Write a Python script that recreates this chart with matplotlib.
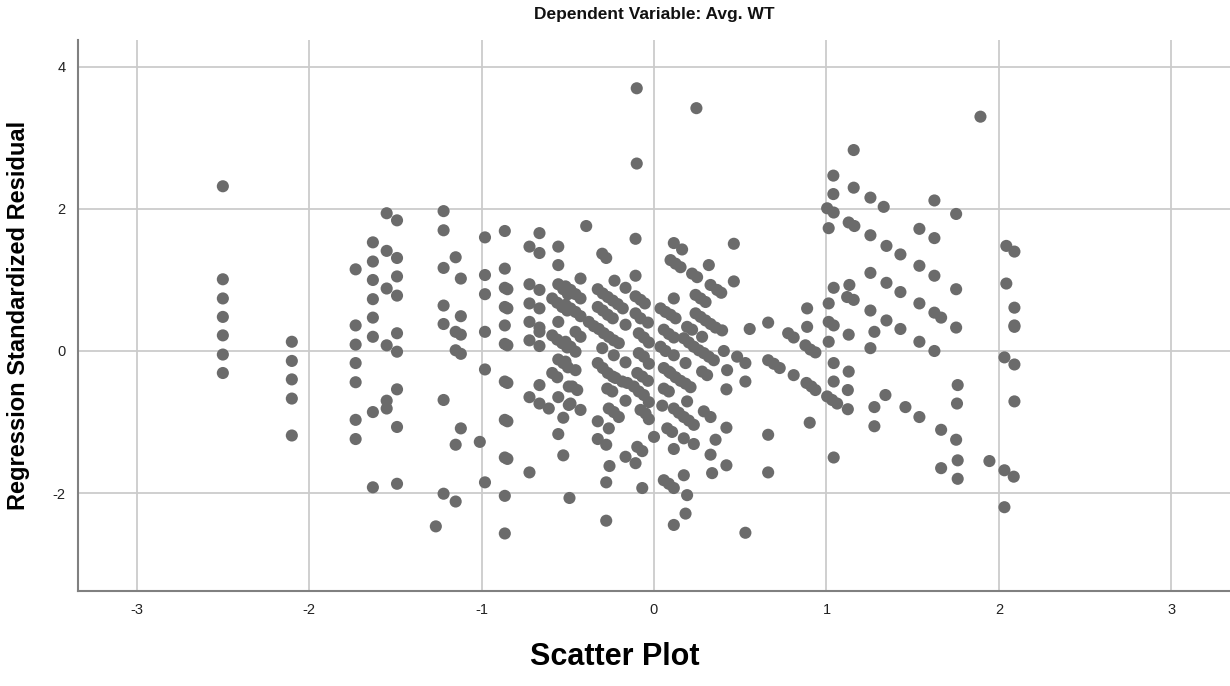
import matplotlib
matplotlib.use("Agg")
import matplotlib.pyplot as plt

plt.rcParams['font.family'] = ['Liberation Sans', 'DejaVu Sans']
plt.rcParams['axes.unicode_minus'] = False

# standardized predicted value (x) and standardized residual (y)
# left columns
x_left = ([-2.50] * 7 + [-2.10] * 5 + [-1.73] * 7 + [-1.63] * 8 + [-1.55] * 6 + [-1.49] * 9
          + [-1.22] * 7 + [-1.15] * 5 + [-1.12] * 5 + [-1.265, -1.01] + [-0.98] * 6)
y_left = [2.32, 1.01, 0.74, 0.48, 0.22, -0.05, -0.31,
          0.13, -0.14, -0.40, -0.67, -1.19,
          1.15, 0.36, 0.09, -0.17, -0.44, -0.97, -1.24,
          1.53, 1.26, 1.00, 0.73, 0.47, 0.20, -0.86, -1.92,
          1.94, 1.41, 0.88, 0.08, -0.70, -0.81,
          1.84, 1.31, 1.05, 0.78, 0.25, -0.01, -0.54, -1.07, -1.87,
          1.97, 1.70, 1.17, 0.64, 0.38, -0.69, -2.01,
          1.32, 0.27, 0.01, -1.32, -2.12,
          1.02, 0.49, 0.23, -0.04, -1.09,
          -2.47, -1.28,
          1.60, 1.07, 0.80, 0.27, -0.26, -1.85]

# centre-left band (-0.9 .. -0.45)
x_cl = ([-0.865] * 11 + [-0.85] * 6 + [-0.722] * 7 + [-0.664] * 9 + [-0.61]
        + [-0.555] * 7 + [-0.526] * 4 + [-0.499, -0.499]
        + [-0.590, -0.561, -0.532, -0.503, -0.590, -0.561, -0.532, -0.503, -0.590, -0.561]
        + [-0.494, -0.494, -0.49])
y_cl = [1.69, 1.16, 0.89, 0.62, 0.36, 0.10, -0.43, -0.97, -1.50, -2.04, -2.57,
        0.87, 0.60, 0.08, -0.45, -0.99, -1.52,
        1.47, 0.94, 0.67, 0.41, 0.15, -0.65, -1.71,
        1.66, 1.38, 0.86, 0.60, 0.33, 0.27, 0.07, -0.48, -0.74,
        -0.81,
        1.47, 1.21, 0.94, 0.41, -0.12, -0.65, -1.17,
        0.87, -0.17, -0.94, -1.47,
        0.80, -0.23,
        0.74, 0.68, 0.62, 0.57, 0.22, 0.16, 0.11, 0.05, -0.31, -0.37,
        -0.50, -0.76, -2.07]

# centre band (-0.52 .. 0)
x_c = [-0.393, -0.107, -0.30, -0.277, -0.426, -0.107, -0.229, -0.165,
       -0.513, -0.484, -0.455, -0.426,
       -0.326, -0.297, -0.268, -0.239, -0.210, -0.181,
       -0.107, -0.078, -0.053,
       -0.513, -0.484, -0.455, -0.426,
       -0.326, -0.297, -0.268, -0.239,
       -0.107, -0.078,
       -0.378, -0.349, -0.320, -0.291, -0.262, -0.233, -0.204,
       -0.165, -0.455, -0.426, -0.088, -0.059,
       -0.513, -0.484, -0.455, -0.30, -0.233, -0.088, -0.059,
       -0.513, -0.455, -0.326, -0.297, -0.268, -0.239, -0.165, -0.097, -0.068,
       -0.474, -0.445, -0.271, -0.242, -0.223, -0.184, -0.155,
       -0.117, -0.088, -0.059, -0.484, -0.426, -0.165,
       -0.262, -0.233, -0.204, -0.078, -0.049,
       -0.326, -0.262, -0.326, -0.277, -0.097, -0.068,
       -0.165, -0.107, -0.258, -0.277, -0.068, -0.277,
       -0.035, -0.03, -0.03, -0.035, -0.03, -0.03,
       -0.10, 0.246, -0.10]
y_c = [1.76, 1.58, 1.37, 1.31, 1.02, 1.06, 0.99, 0.89,
       0.91, 0.86, 0.80, 0.74,
       0.87, 0.81, 0.76, 0.71, 0.66, 0.60,
       0.77, 0.72, 0.67,
       0.65, 0.60, 0.55, 0.49,
       0.62, 0.57, 0.51, 0.46,
       0.53, 0.46,
       0.41, 0.35, 0.31, 0.25, 0.20, 0.15, 0.11,
       0.37, 0.27, 0.20, 0.25, 0.19,
       0.13, 0.06, -0.01, 0.04, -0.06, -0.03, -0.08,
       -0.15, -0.27, -0.17, -0.24, -0.31, -0.36, -0.16, -0.31, -0.36,
       -0.50, -0.55, -0.53, -0.57, -0.38, -0.43, -0.45,
       -0.50, -0.57, -0.62, -0.74, -0.83, -0.70,
       -0.81, -0.86, -0.93, -0.83, -0.88,
       -0.99, -1.09, -1.24, -1.32, -1.35, -1.41,
       -1.49, -1.58, -1.62, -1.85, -1.93, -2.39,
       0.40, 0.12, -0.18, -0.42, -0.72, -0.96,
       3.70, 3.42, 2.64]

# centre-right band (0 .. 0.95)
x_cr = [0.115, 0.163, 0.096, 0.125, 0.154, 0.318, 0.221, 0.25, 0.328, 0.366, 0.115,
        0.241, 0.27, 0.299, 0.038, 0.067, 0.096, 0.125,
        0.241, 0.27, 0.299, 0.328, 0.357, 0.395,
        0.057, 0.086, 0.115, 0.192, 0.221,
        0.173, 0.202, 0.231, 0.26, 0.289, 0.318, 0.347, 0.279,
        0.038, 0.067, 0.115, 0.057, 0.086,
        0.096, 0.125, 0.154, 0.183, 0.212, 0.183, 0.279, 0.308,
        0.057, 0.086, 0.192, 0.048,
        0.115, 0.144, 0.173, 0.202, 0.231, 0.289, 0.328,
        0.077, 0.105, 0.173, 0.231, 0.0, 0.115,
        0.357, 0.328, 0.337, 0.173, 0.057, 0.086, 0.115,
        0.192, 0.183, 0.115,
        0.463, 0.463, 0.39, 0.555, 0.662, 0.405, 0.482, 0.53,
        0.424, 0.53, 0.42, 0.662, 0.695, 0.729, 0.778, 0.81, 0.81,
        0.888, 0.888, 0.878, 0.907, 0.936, 0.884, 0.913, 0.936,
        0.903, 0.662, 0.662, 0.53, 0.42, 0.42]
y_cr = [1.52, 1.43, 1.28, 1.23, 1.18, 1.21, 1.09, 1.04, 0.93, 0.86, 0.74,
        0.79, 0.74, 0.69, 0.60, 0.55, 0.51, 0.46,
        0.53, 0.48, 0.43, 0.38, 0.33, 0.29,
        0.30, 0.24, 0.19, 0.34, 0.30,
        0.18, 0.12, 0.06, 0.01, -0.03, -0.08, -0.13, 0.20,
        0.06, 0.00, -0.06, -0.24, -0.29,
        -0.31, -0.37, -0.42, -0.46, -0.51, -0.17, -0.29, -0.34,
        -0.53, -0.57, -0.71, -0.77,
        -0.81, -0.87, -0.93, -0.98, -1.04, -0.85, -0.93,
        -1.09, -1.14, -1.23, -1.31, -1.21, -1.38,
        -1.25, -1.46, -1.72, -1.75, -1.82, -1.87, -1.93,
        -2.03, -2.29, -2.45,
        1.51, 0.98, 0.82, 0.31, 0.40, 0.00, -0.08, -0.17,
        -0.27, -0.43, -0.54, -0.13, -0.18, -0.24, 0.25, 0.19, -0.34,
        0.60, 0.34, 0.08, 0.02, -0.02, -0.45, -0.50, -0.55,
        -1.01, -1.18, -1.71, -2.56, -1.08, -1.61]

# right side (x > 1)
x_right = [1.004, 1.042, 1.013, 1.042, 1.013, 1.013, 1.042, 1.013, 1.042, 1.042,
           1.004, 1.033, 1.062, 1.042, 1.04, 1.04,
           1.893, 1.158, 1.158, 1.255, 1.332, 1.626, 1.752, 1.129, 1.162,
           1.255, 1.348, 1.429, 1.539, 1.626, 1.539, 1.626,
           1.255, 1.348, 1.429, 1.752, 1.133, 1.12, 1.158,
           1.255, 1.348, 1.429, 1.539, 1.626, 1.665, 1.752,
           1.129, 1.278, 1.255, 1.539, 1.626,
           1.129, 1.124, 1.124, 1.342, 1.278, 1.458, 1.539,
           1.278, 1.665, 1.752, 1.761, 1.757, 1.761, 1.665, 1.761,
           1.945, 2.032, 2.086, 2.032,
           2.043, 2.09, 2.043, 2.09, 2.09, 2.09, 2.032, 2.09, 2.09]
y_right = [2.01, 1.95, 1.73, 0.89, 0.67, 0.41, 0.36, 0.13, -0.17, -0.43,
           -0.64, -0.69, -0.74, -1.50, 2.47, 2.21,
           3.30, 2.83, 2.30, 2.16, 2.03, 2.12, 1.93, 1.81, 1.76,
           1.63, 1.48, 1.36, 1.72, 1.59, 1.20, 1.06,
           1.10, 0.96, 0.83, 0.87, 0.93, 0.76, 0.72,
           0.57, 0.43, 0.31, 0.67, 0.54, 0.47, 0.33,
           0.23, 0.27, 0.04, 0.13, 0.00,
           -0.29, -0.55, -0.82, -0.62, -0.79, -0.79, -0.93,
           -1.06, -1.11, -1.25, -0.48, -0.74, -1.54, -1.65, -1.80,
           -1.55, -1.68, -1.77, -2.20,
           1.48, 1.40, 0.95, 0.61, 0.34, 0.36, -0.09, -0.19, -0.71]

xs = x_left + x_cl + x_c + x_cr + x_right
ys = y_left + y_cl + y_c + y_cr + y_right

x_ticks = [-3, -2, -1, 0, 1, 2, 3]
y_ticks = [-2, 0, 2, 4]

fig = plt.figure(figsize=(12.3, 6.86), dpi=100)
ax = fig.add_axes([0.0634, 0.1385, 0.9366, 0.8032])

ax.scatter(xs, ys, s=76, color='#6b6b6b', edgecolors='none', zorder=3)

ax.set_xlim(-3.34, 3.34)
ax.set_ylim(-3.38, 4.38)
ax.set_xticks(x_ticks)
ax.set_yticks(y_ticks)
ax.grid(True, color='#cbcbcb', linewidth=1.3, zorder=0)
ax.set_axisbelow(True)
ax.tick_params(length=0, labelsize=10.5, colors='#222222', pad=9)

for side in ['top', 'right']:
    ax.spines[side].set_visible(False)
for side in ['left', 'bottom']:
    ax.spines[side].set_color('#808080')
    ax.spines[side].set_linewidth(1.5)

ax.set_title("Dependent Variable: Avg. WT", fontsize=12.5, fontweight='bold', pad=15, color='#111111')
ax.set_ylabel("Regression Standardized Residual", fontsize=17, fontweight='bold', labelpad=16)
fig.text(0.5, 0.043, "Scatter Plot", ha='center', va='center', fontsize=22, fontweight='bold')

fig.savefig("out.png", dpi=100)
